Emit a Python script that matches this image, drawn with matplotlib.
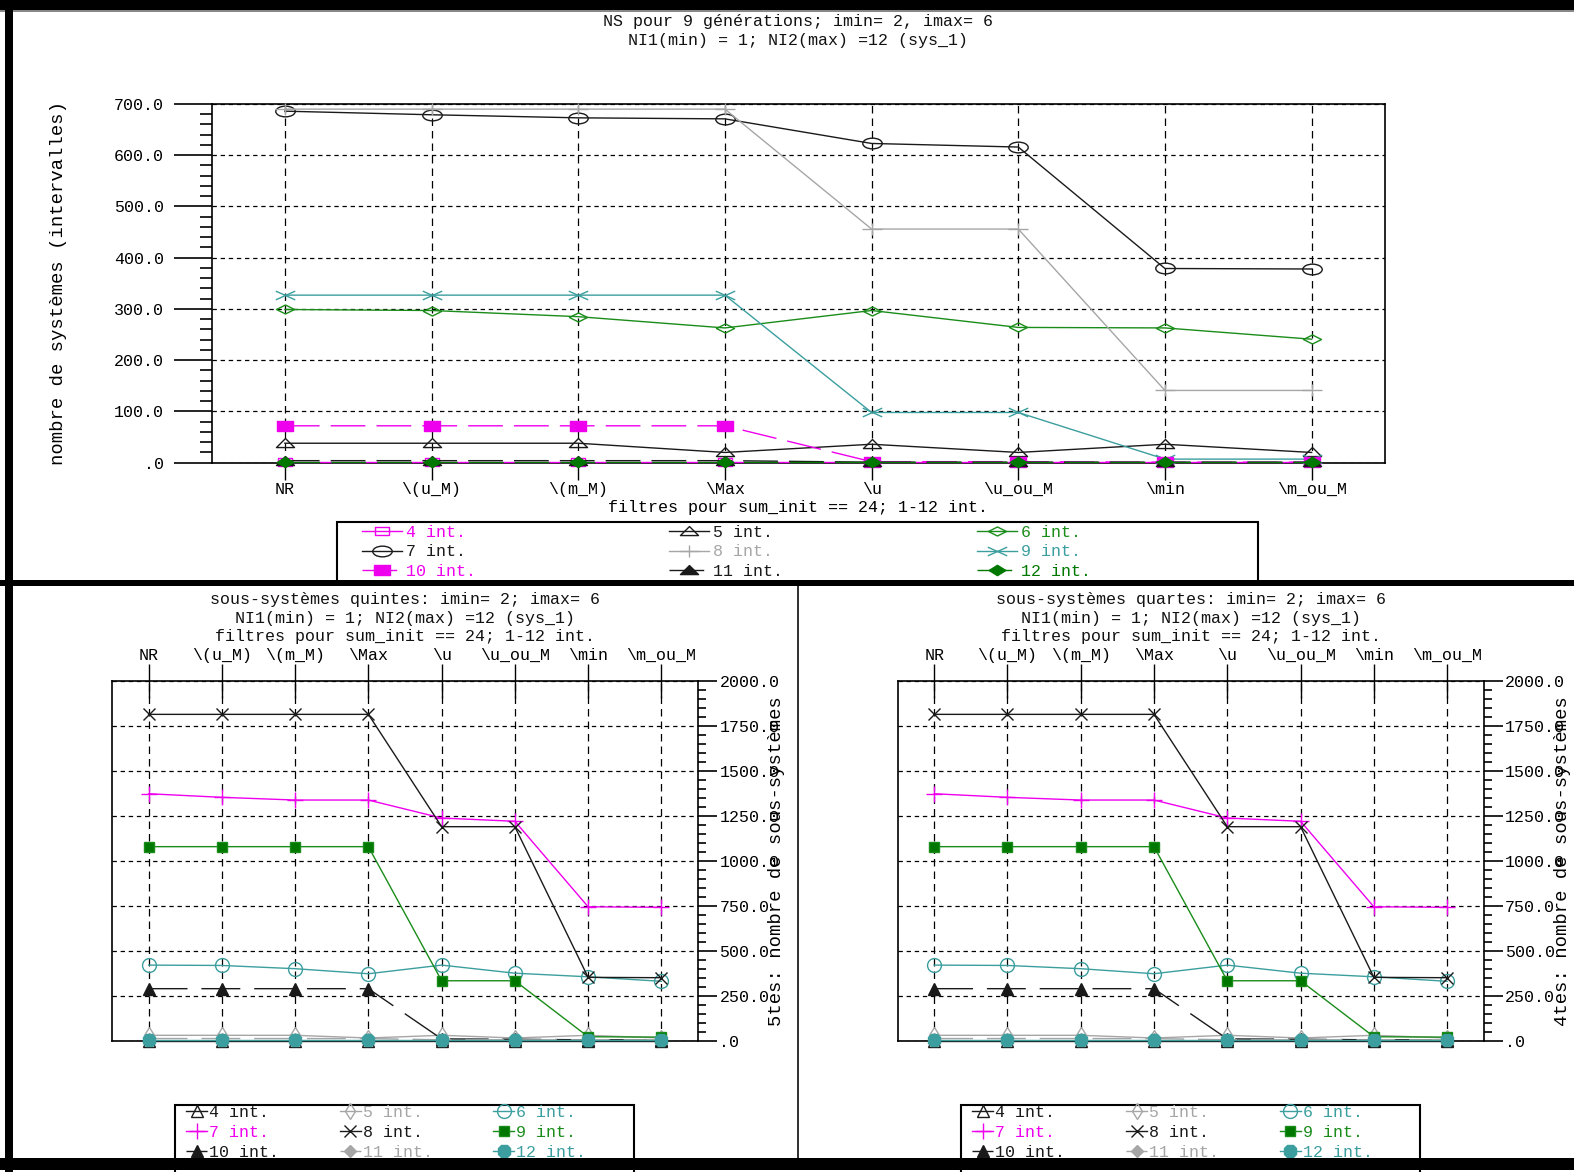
import numpy as np
import matplotlib
matplotlib.use('Agg')
import matplotlib.pyplot as plt
import matplotlib.path as mpath
from matplotlib.patches import Rectangle
from matplotlib.ticker import MultipleLocator, FuncFormatter

plt.rcParams['font.family'] = ['Liberation Mono', 'DejaVu Sans Mono']
plt.rcParams['font.size'] = 12
plt.rcParams['text.color'] = '#111111'

W, H = 1574, 1172

filtres = ['NR', r'\(u_M)', r'\(m_M)', r'\Max', r'\u', r'\u_ou_M', r'\min', r'\m_ou_M']

# NS pour 9 generations (intervalles), one list per number of intervals
ns_4 = [1, 1, 1, 1, 1, 1, 1, 1]
ns_5 = [38, 38, 38, 20, 36, 20, 36, 20]
ns_6 = [299, 297, 285, 263, 297, 264, 263, 241]
ns_7 = [686, 679, 673, 671, 623, 616, 379, 378]
ns_8 = [690, 690, 690, 690, 456, 456, 141, 141]
ns_9 = [327, 327, 327, 327, 98, 98, 7, 7]
ns_10 = [72, 72, 72, 72, 2, 2, 1, 1]
ns_11 = [4, 4, 4, 4, 1, 1, 1, 1]
ns_12 = [2, 2, 2, 2, 2, 2, 2, 2]

# sous-systemes (quintes and quartes panels show the same curves)
ss_4 = [0, 0, 0, 0, 0, 0, 0, 0]
ss_5 = [30, 30, 30, 15, 30, 15, 30, 15]
ss_6 = [420, 418, 400, 372, 420, 375, 355, 330]
ss_7 = [1372, 1352, 1337, 1337, 1237, 1219, 744, 741]
ss_8 = [1813, 1813, 1813, 1813, 1189, 1189, 352, 350]
ss_9 = [1078, 1078, 1078, 1078, 333, 333, 22, 20]
ss_10 = [289, 289, 289, 289, 10, 8, 5, 5]
ss_11 = [12, 12, 12, 12, 5, 5, 5, 5]
ss_12 = [5, 5, 5, 5, 5, 5, 5, 5]

MAGENTA = '#ee00ee'
GREEN = '#1a8c1a'
DKGREEN = '#007800'
TEAL = '#3c9e9e'
GRAY = '#a6a6a6'
BLACK = '#1a1a1a'


def poly(*pts):
    return mpath.Path(list(pts) + [pts[0]], closed=True)


# flattened marker shapes of the old plotting program
circ = mpath.Path.unit_circle()
ellipse = mpath.Path(circ.vertices * [1.0, 0.55], circ.codes)
tri = poly((-1, -0.45), (1, -0.45), (0, 0.55))
diam = poly((-1, 0), (0, 0.5), (1, 0), (0, -0.5))
diam_big = poly((-1, 0), (0, 0.62), (1, 0), (0, -0.62))
rect = poly((-1, -0.6), (1, -0.6), (1, 0.6), (-1, 0.6))
cross = mpath.Path([(-1, -0.45), (1, 0.45), (-1, 0.45), (1, -0.45)], [1, 2, 1, 2])
plus = mpath.Path([(-1, 0), (1, 0), (0, -0.6), (0, 0.6)], [1, 2, 1, 2])

dash = (0, (25, 8))
top_series = [
    ('4 int.', ns_4, MAGENTA, rect, 'none', '-', 10),
    ('5 int.', ns_5, BLACK, tri, 'none', '-', 13),
    ('6 int.', ns_6, GREEN, diam, 'none', '-', 13),
    ('7 int.', ns_7, BLACK, ellipse, 'none', '-', 14),
    ('8 int.', ns_8, GRAY, plus, 'none', '-', 14),
    ('9 int.', ns_9, TEAL, cross, 'none', '-', 14),
    ('10 int.', ns_10, MAGENTA, rect, MAGENTA, dash, 11),
    ('11 int.', ns_11, BLACK, tri, BLACK, dash, 13),
    ('12 int.', ns_12, DKGREEN, diam_big, DKGREEN, dash, 12),
]

bottom_series = [
    ('4 int.', ss_4, BLACK, '^', 'none', '-', 8),
    ('5 int.', ss_5, GRAY, 'd', 'none', '-', 8),
    ('6 int.', ss_6, TEAL, 'o', 'none', '-', 10),
    ('7 int.', ss_7, MAGENTA, '+', 'none', '-', 12),
    ('8 int.', ss_8, BLACK, 'x', 'none', '-', 9),
    ('9 int.', ss_9, GREEN, 's', DKGREEN, '-', 7),
    ('10 int.', ss_10, BLACK, '^', BLACK, (0, (28, 10)), 9),
    ('11 int.', ss_11, GRAY, 'D', GRAY, (0, (28, 10)), 6),
    ('12 int.', ss_12, TEAL, '8', TEAL, '-', 10),
]

row_order = [0, 3, 6, 1, 4, 7, 2, 5, 8]


def ax_px(left, top, right, bottom):
    return fig.add_axes([left / W, 1 - bottom / H, (right - left) / W, (bottom - top) / H])


def box_px(x0, y0, x1, y1, face='black', edge='none', lw=0, z=10):
    fig.add_artist(Rectangle((x0 / W, 1 - y1 / H), (x1 - x0) / W, (y1 - y0) / H,
                             transform=fig.transFigure, facecolor=face,
                             edgecolor=edge, linewidth=lw, zorder=z))


def fmt(v, pos):
    s = f'{v:.1f}'
    return s[1:] if s.startswith('0') else s


def draw_series(ax, series):
    x = np.arange(len(filtres))
    handles = []
    for i, (lab, vals, c, m, fc, ls, ms) in enumerate(series):
        h, = ax.plot(x, vals, color=c, lw=1.0, ls=ls, marker=m, ms=ms, mfc=fc,
                     mec=c, mew=1.0, label=lab, clip_on=False, zorder=3 + i)
        handles.append(h)
    return handles


def style_grid(ax):
    ax.xaxis.grid(True, color='black', linestyle=(0, (6, 4)), linewidth=0.9)
    ax.yaxis.grid(True, color='black', linestyle=(0, (3.5, 3)), linewidth=0.9)
    ax.set_axisbelow(True)
    for sp in ax.spines.values():
        sp.set_linewidth(1.2)


fig = plt.figure(figsize=(W / 100, H / 100), dpi=100)

# ---- top chart: NS (intervalles) ----
ax = ax_px(211.5, 104, 1385, 462.7)
top_handles = draw_series(ax, top_series)
ax.set_xlim(-0.5, 7.5)
ax.set_ylim(0, 700)
ax.set_xticks(np.arange(len(filtres)))
ax.set_xticklabels(filtres)
ax.yaxis.set_major_locator(MultipleLocator(100))
ax.yaxis.set_minor_locator(MultipleLocator(20))
ax.yaxis.set_major_formatter(FuncFormatter(fmt))
ax.tick_params(axis='y', which='major', direction='out', length=27.4, width=1.2, pad=6.8)
ax.tick_params(axis='y', which='minor', direction='out', length=9, width=1.2)
ax.tick_params(axis='x', direction='out', length=12.5, width=1.0, pad=1.5)
style_grid(ax)
ax.set_title('NS pour 9 générations; imin= 2, imax= 6\nNI1(min) = 1; NI2(max) =12 (sys_1)',
             y=1.204, pad=0, va='center', linespacing=1.28, fontsize=12)
ax.set_xlabel('filtres pour sum_init == 24; 1-12 int.', va='center')
ax.xaxis.set_label_coords(0.5, -0.125)
ax.set_ylabel('nombre de systèmes (intervalles)', fontsize=13.6, va='center')
ax.yaxis.set_label_coords(-0.130, 0.5)

box_px(337.3, 521.7, 1257.7, 583, face='none', edge='black', lw=1.5, z=4)
leg = fig.legend([top_handles[i] for i in row_order], [top_series[i][0] for i in row_order],
                 ncol=3, loc='upper left', bbox_to_anchor=(361.7 / W, 1 - 525 / H),
                 bbox_transform=fig.transFigure, frameon=False, borderpad=0,
                 borderaxespad=0, handlelength=2.4, handletextpad=0.24,
                 columnspacing=11.62, labelspacing=0.26, numpoints=1,
                 labelcolor='linecolor', fontsize=12)

# ---- bottom charts: sous-systemes quintes / quartes ----
panels = [
    ((112, 680.7, 698, 1040.7), 'quintes', '5tes: nombre de sous-systèmes', 186),
    ((897.5, 680.7, 1483.8, 1040.7), 'quartes', '4tes: nombre de sous-systèmes', 972.4),
]
for (l, t, r, b), kind, ylab, leg_x in panels:
    ax = ax_px(l, t, r, b)
    handles = draw_series(ax, bottom_series)
    ax.set_xlim(-0.5, 7.5)
    ax.set_ylim(0, 2000)
    ax.set_xticks(np.arange(len(filtres)))
    ax.set_xticklabels(filtres)
    ax.xaxis.tick_top()
    ax.yaxis.tick_right()
    ax.yaxis.set_major_locator(MultipleLocator(250))
    ax.yaxis.set_minor_locator(MultipleLocator(50))
    ax.yaxis.set_major_formatter(FuncFormatter(fmt))
    ax.tick_params(axis='y', which='major', direction='out', length=13.6, width=1.2, pad=1.8)
    ax.tick_params(axis='y', which='minor', direction='out', length=5.5, width=1.2)
    ax.tick_params(axis='x', direction='inout', length=25, width=1.0, pad=0.5)
    style_grid(ax)
    ax.set_title(f'sous-systèmes {kind}: imin= 2; imax= 6\n'
                 'NI1(min) = 1; NI2(max) =12 (sys_1)\n'
                 'filtres pour sum_init == 24; 1-12 int.',
                 y=1.174, pad=0, va='center', linespacing=1.26, fontsize=12)
    ax.yaxis.set_label_position('right')
    ax.set_ylabel(ylab, fontsize=13.6, va='center', rotation=90)
    ax.yaxis.set_label_coords(1.134, 0.5)

    box_px(leg_x - 11.5, 1105, leg_x + 448, 1175, face='none', edge='black', lw=1.5, z=4)
    fig.legend([handles[i] for i in row_order], [bottom_series[i][0] for i in row_order],
               ncol=3, loc='upper left', bbox_to_anchor=(leg_x / W, 1 - 1105 / H),
               bbox_transform=fig.transFigure, frameon=False, borderpad=0,
               borderaxespad=0, handlelength=1.26, handletextpad=0.12,
               columnspacing=3.64, labelspacing=0.3, numpoints=1,
               labelcolor='linecolor', fontsize=12)

# black frame bands of the original screen capture
box_px(0, 0, W, 10)
box_px(0, 10, W, 11.5, face='#888888')
box_px(5, 0, 13, H)
box_px(0, 580, W, 586)
box_px(797, 586, 799, 1158, face='#333333')
box_px(0, 1158, W, 1170)

fig.savefig('out.png', dpi=100)
